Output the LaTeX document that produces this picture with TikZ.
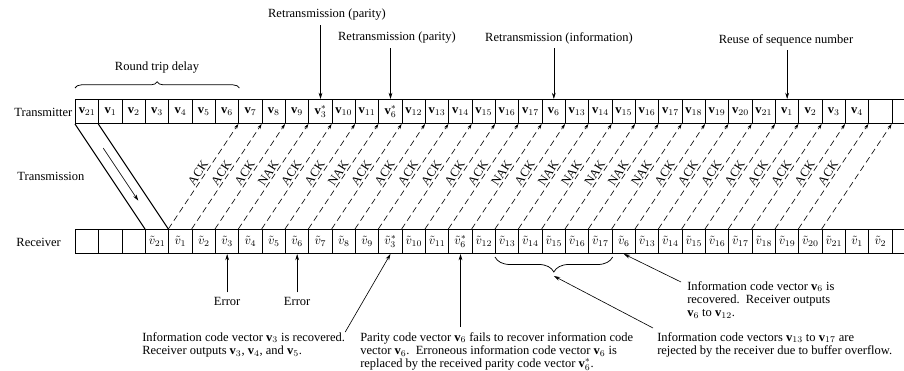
\documentclass[tikz,border=0pt]{standalone}
\usepackage{fontspec}
\setmainfont{Liberation Serif}
\usetikzlibrary{calc,arrows.meta,decorations.pathreplacing}

\newcommand{\txv}[1]{$\mathbf{v}_{#1}$}
\newcommand{\txs}[1]{$\mathbf{v}^{*}_{#1}$}
\newcommand{\rxv}[1]{$\tilde{v}_{#1}$}
\newcommand{\rxs}[1]{$\tilde{v}^{*}_{#1}$}

\tikzset{
	cell/.style={draw, line width=0.8pt, minimum width=18.67pt, minimum height=19.2pt, inner sep=0pt, anchor=north west},
	ack/.style={line width=0.5pt, dash pattern=on 5pt off 3pt, -{Stealth[length=4pt,width=2.6pt]}},
	reply/.style={sloped, above, inner sep=1.5pt, pos=0.5},
	ptr/.style={line width=0.5pt, -{Stealth[length=5pt,width=3pt]}},
	note/.style={align=left, inner sep=0pt, anchor=north west, font=\fontsize{10}{10.5}\selectfont},
}

\begin{document}
\begin{tikzpicture}[x=0.8pt, y=-0.8pt]
		%%%%% START %%%%%
		\useasboundingbox (0,0) rectangle (904,371);
		
		% transmitter row
		\foreach \k/\lab in {0/\txv{21},1/\txv{1},2/\txv{2},3/\txv{3},4/\txv{4},5/\txv{5},6/\txv{6},7/\txv{7},8/\txv{8},9/\txv{9},
			10/\txs{3},11/\txv{10},12/\txv{11},13/\txs{6},14/\txv{12},15/\txv{13},16/\txv{14},17/\txv{15},18/\txv{16},19/\txv{17},
			20/\txv{6},21/\txv{13},22/\txv{14},23/\txv{15},24/\txv{16},25/\txv{17},26/\txv{18},27/\txv{19},28/\txv{20},29/\txv{21},
			30/\txv{1},31/\txv{2},32/\txv{3},33/\txv{4},34/{},35/{}}
			\node[cell] (t\k) at (75+23.333*\k, 99) {\lab};
		
		% receiver row
		\foreach \k/\lab in {0/{},1/{},2/{},3/\rxv{21},4/\rxv{1},5/\rxv{2},6/\rxv{3},7/\rxv{4},8/\rxv{5},9/\rxv{6},
			10/\rxv{7},11/\rxv{8},12/\rxv{9},13/\rxs{3},14/\rxv{10},15/\rxv{11},16/\rxs{6},17/\rxv{12},18/\rxv{13},19/\rxv{14},
			20/\rxv{15},21/\rxv{16},22/\rxv{17},23/\rxv{6},24/\rxv{13},25/\rxv{14},26/\rxv{15},27/\rxv{16},28/\rxv{17},29/\rxv{18},
			30/\rxv{19},31/\rxv{20},32/\rxv{21},33/\rxv{1},34/\rxv{2},35/{}}
			\node[cell] (r\k) at (75+23.333*\k, 229) {\lab};
		
		\node[anchor=west] (tx) at (10,112) {Transmitter};
		\node[anchor=west] (tm) at (13,176) {Transmission};
		\node[anchor=west] (rx) at (12,242) {Receiver};
		
		% forward channel
		\draw[line width=0.8pt] (t0.south west) -- (r3.north west);
		\draw[line width=0.8pt] (t1.south west) -- (r4.north west);
		\draw[ptr] ($(t0.south)!0.23!(r3.north)$) -- ($(t0.south)!0.73!(r3.north)$);
		
		% feedback channel
		\foreach \i/\msg in {0/ACK,1/ACK,2/ACK,3/NAK,4/ACK,5/ACK,6/NAK,7/ACK,8/ACK,9/ACK,
			10/ACK,11/ACK,12/ACK,13/NAK,14/ACK,15/NAK,16/NAK,17/NAK,18/NAK,19/NAK,
			20/ACK,21/ACK,22/ACK,23/ACK,24/ACK,25/ACK,26/ACK,27/ACK}{
			\pgfmathtruncatemacro{\a}{\i+4}
			\pgfmathtruncatemacro{\b}{\i+7}
			\draw[ack] (r\a.north west) -- node[reply] {\msg} (t\b.south west);
		}
		\draw[ack] (r32.north west) -- (t35.south west);
		
		% top notes
		\node (rtd) at (157,68) {Round trip delay};
		\draw[decorate, decoration={brace, amplitude=5pt}, line width=0.6pt] ($(t0.north west)+(0,-11)$) -- ($(t6.north east)+(0,-11)$);
		
		\node (rp1) at (327,15) {Retransmission (parity)};
		\draw[ptr] (rp1.south -| t10.north) -- (t10.north);
		\node (rp2) at (397,38) {Retransmission (parity)};
		\draw[ptr] (rp2.south -| t13.north) -- (t13.north);
		\node (ri) at (559,38) {Retransmission (information)};
		\draw[ptr] (ri.south -| t20.north) -- (t20.north);
		\node (reuse) at (786,40) {Reuse of sequence number};
		\draw[ptr] (reuse.south -| t30.north) -- (t30.north);
		
		% bottom notes
		\node (err1) at ($(r6.south)+(0,47)$) {Error};
		\draw[ptr] (err1.north) -- (r6.south);
		\node (err2) at ($(r9.south)+(0,47)$) {Error};
		\draw[ptr] (err2.north) -- (r9.south);
		
		\node[note] (nA) at (142,332) {Information code vector \txv{3} is recovered.\\Receiver outputs \txv{3}, \txv{4}, and \txv{5}.};
		\draw[ptr] (nA.north east) -- (r13.south);
		
		\node[note] (nB) at (360,332) {Parity code vector \txv{6} fails to recover information code\\vector \txv{6}.\ \ Erroneous information code vector \txv{6} is\\replaced by the received parity code vector \txs{6}.};
		\draw[ptr] ($(r16.south |- nB.north)+(0,-5)$) -- (r16.south);
		
		\node[note] (nC) at (687,281) {Information code vector \txv{6} is\\recovered.\ \ Receiver outputs\\\txv{6} to \txv{12}.};
		\draw[ptr] ($(nC.north west)+(-6,1)$) -- (r23.south);
		
		\draw[decorate, decoration={brace, amplitude=12pt}, line width=0.6pt] ($(r22.south east)+(0,3)$) -- ($(r18.south west)+(0,3)$);
		\coordinate (bt) at ($(r18.south west)!0.5!(r22.south east)+(0,22)$);
		\node[note] (nD) at (657,332) {Information code vectors \txv{13} to \txv{17} are\\rejected by the receiver due to buffer overflow.};
		\draw[ptr] ($(nD.north west)+(-4,-4)$) -- (bt);
		
		%%%%% END %%%%%
\end{tikzpicture}
\end{document}
